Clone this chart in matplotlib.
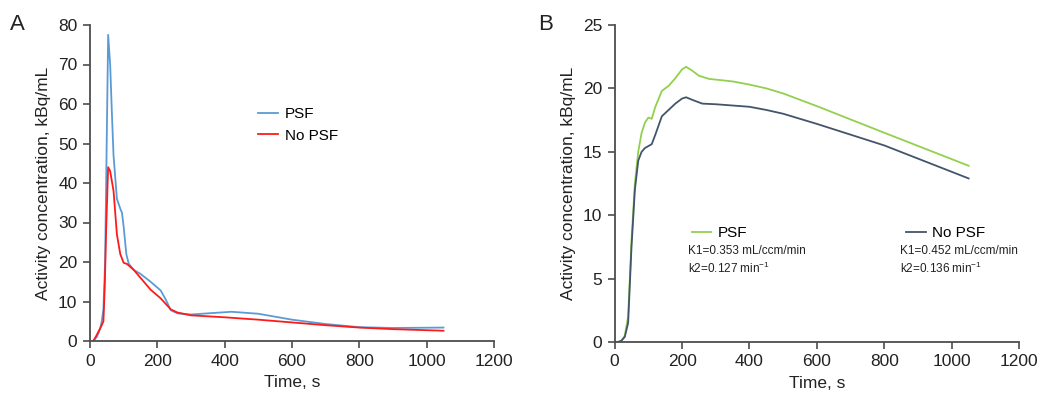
import numpy as np
import matplotlib.pyplot as plt

plt.rcParams["font.family"] = ["Liberation Sans", "DejaVu Sans"]
plt.rcParams["mathtext.fontset"] = "custom"
plt.rcParams["mathtext.rm"] = "Liberation Sans"

# Panel A: arterial input curves
tA_psf = [10, 20, 30, 35, 40, 45, 50, 54, 60, 65, 70, 80, 90, 95, 100, 108, 115, 130, 150, 180,
          210, 225, 240, 260, 300, 350, 420, 500, 600, 700, 800, 900, 1050]
yA_psf = [0, 1, 3, 5, 8, 20, 52, 77.5, 70, 58, 47, 36, 33.5, 32.5, 29, 22, 19.6, 18, 17, 15,
          12.8, 10.5, 7.8, 7.0, 6.7, 7.0, 7.4, 6.9, 5.4, 4.3, 3.5, 3.3, 3.4]
tA_nopsf = [10, 20, 35, 40, 44, 48, 54, 60, 70, 80, 90, 100, 110, 130, 150, 180, 210, 240, 260,
            300, 400, 500, 600, 700, 800, 900, 1050]
yA_nopsf = [0, 1.5, 4, 5, 14, 28, 44, 43, 38, 27, 22, 19.8, 19.5, 18, 16, 13, 10.8, 8, 7.2,
            6.5, 6.0, 5.4, 4.7, 4.0, 3.4, 3.0, 2.6]

# Panel B: tissue curves
tB_psf = [0, 10, 20, 30, 40, 50, 60, 70, 80, 90, 100, 110, 120, 140, 160, 180, 200, 212, 230,
          250, 280, 350, 400, 450, 500, 600, 800, 1050]
yB_psf = [0, 0, 0.1, 0.5, 2, 8, 12.5, 15, 16.5, 17.3, 17.7, 17.6, 18.5, 19.8, 20.2, 20.8, 21.5,
          21.7, 21.4, 21.0, 20.75, 20.55, 20.3, 20.0, 19.6, 18.6, 16.5, 13.9]
tB_nopsf = [0, 10, 20, 30, 40, 50, 60, 70, 80, 90, 110, 120, 140, 160, 180, 200, 212, 230, 260,
            300, 400, 450, 500, 600, 800, 1050]
yB_nopsf = [0, 0, 0.1, 0.4, 1.5, 7.5, 12, 14.3, 15.0, 15.3, 15.6, 16.3, 17.8, 18.3, 18.8, 19.2,
            19.3, 19.1, 18.8, 18.75, 18.55, 18.3, 18.0, 17.2, 15.5, 12.9]

xticks = [0, 200, 400, 600, 800, 1000, 1200]
spine_col = "#4d4d4d"


def style_axes(ax, ymax, ystep):
    ax.set_xlim(0, 1200)
    ax.set_ylim(0, ymax)
    ax.set_xticks(xticks)
    ax.set_yticks(np.arange(0, ymax + 0.1, ystep))
    for s in ["top", "right"]:
        ax.spines[s].set_visible(False)
    for s in ["left", "bottom"]:
        ax.spines[s].set_color(spine_col)
        ax.spines[s].set_linewidth(1.3)
    ax.tick_params(direction="out", length=5, width=1.2, color=spine_col,
                   labelsize=12.5, labelcolor="#222222", pad=4)
    ax.set_xlabel("Time, s", fontsize=12.5, color="#222222", labelpad=5)
    ax.set_ylabel("Activity concentration, kBq/mL", fontsize=12.5, color="#222222", labelpad=5)


fig = plt.figure(figsize=(10.4, 4), dpi=100)
axA = fig.add_axes([0.0865, 0.1475, 0.3885, 0.79])
axB = fig.add_axes([0.591, 0.145, 0.389, 0.7925])

axA.plot(tA_psf, yA_psf, color="#5b9bd5", lw=1.3, label="PSF")
axA.plot(tA_nopsf, yA_nopsf, color="#ff1a1a", lw=1.3, label="No PSF")
style_axes(axA, 80, 10)
axA.legend(loc="upper left", bbox_to_anchor=(0.4, 0.76), frameon=False, fontsize=11,
           handlelength=1.3, handletextpad=0.5, labelspacing=0.5, borderaxespad=0)

lg, = axB.plot(tB_psf, yB_psf, color="#92d050", lw=1.3, label="PSF")
ln, = axB.plot(tB_nopsf, yB_nopsf, color="#44546a", lw=1.3, label="No PSF")
style_axes(axB, 25, 5)
leg1 = axB.legend(handles=[lg], loc="upper left", bbox_to_anchor=(0.175, 0.385), frameon=False,
                  fontsize=11, handlelength=1.3, handletextpad=0.4, borderaxespad=0)
axB.add_artist(leg1)
axB.legend(handles=[ln], loc="upper left", bbox_to_anchor=(0.705, 0.385), frameon=False,
           fontsize=11, handlelength=1.3, handletextpad=0.4, borderaxespad=0)
axB.text(0.182, 0.305, "K1=0.353 mL/ccm/min\nk2=0.127 min$^{-1}$", transform=axB.transAxes,
         fontsize=8.5, va="top", ha="left", color="#222222", linespacing=1.25)
axB.text(0.705, 0.305, "K1=0.452 mL/ccm/min\nk2=0.136 min$^{-1}$", transform=axB.transAxes,
         fontsize=8.5, va="top", ha="left", color="#222222", linespacing=1.25)

fig.text(0.01, 0.965, "A", fontsize=16, va="top", ha="left", color="#222222")
fig.text(0.517, 0.965, "B", fontsize=16, va="top", ha="left", color="#222222")

fig.savefig("out.png", dpi=100)
